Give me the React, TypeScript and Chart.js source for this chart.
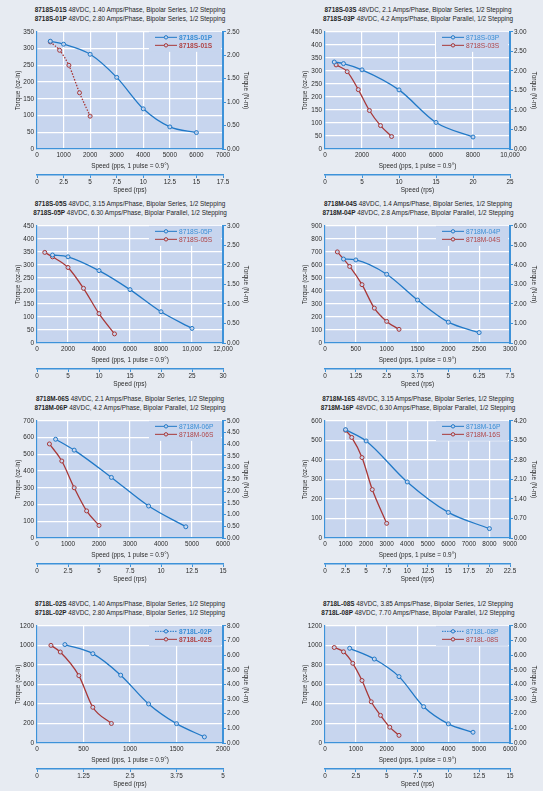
import React, { useEffect, useRef } from "react";
import { Chart, registerables } from "chart.js";

Chart.register(...registerables);

const FONT = '"Liberation Sans", Arial, sans-serif';

const PAGE_BG = "#e7ebf2";
const PLOT_BG = "#c7d5ee";
const BLUE = "#2179c7";
const RED = "#a83838";
const AXIS_BLUE = "#3d92d9";
const LEG_BLUE = "#3a8ed6";
const LEG_RED = "#b04446";
const TEXT = "#2a2a2a";

// ---------- data (speed in pps, torque in oz-in) ----------
const speed01P = [500, 1000, 2000, 3000, 4000, 5000, 6000];
const torque01P = [322, 313, 283, 214, 120, 66, 49];
const speed01S = [500, 850, 1200, 1600, 2000];
const torque01S = [320, 295, 250, 168, 98];

const speed03P = [500, 1000, 2000, 4000, 6000, 8000];
const torque03P = [334, 328, 304, 227, 102, 46];
const speed03S = [600, 1200, 1800, 2400, 3000, 3600];
const torque03S = [323, 297, 228, 148, 90, 48];

const speed05P = [1000, 2000, 4000, 6000, 8000, 10000];
const torque05P = [338, 331, 278, 205, 120, 56];
const speed05S = [500, 1000, 2000, 3000, 4000, 5000];
const torque05S = [348, 331, 290, 210, 113, 35];

const speed04P = [300, 500, 1000, 1500, 2000, 2500];
const torque04P = [645, 638, 528, 330, 160, 80];
const speed04S = [200, 400, 600, 800, 1000, 1200];
const torque04S = [700, 588, 448, 268, 166, 105];

const speed06P = [600, 1200, 2400, 3600, 4800];
const torque06P = [590, 525, 362, 191, 67];
const speed06S = [400, 800, 1200, 1600, 2000];
const torque06S = [562, 460, 300, 162, 75];

const speed16P = [1000, 2000, 4000, 6000, 8000];
const torque16P = [555, 497, 287, 131, 48];
const speed16S = [1000, 1300, 1800, 2300, 3000];
const torque16S = [552, 515, 412, 248, 75];

const speed02P = [300, 600, 900, 1200, 1500, 1800];
const torque02P = [1008, 915, 695, 400, 198, 62];
const speed02S = [150, 250, 450, 600, 800];
const torque02S = [1000, 932, 690, 366, 200];

const speed08P = [800, 1600, 2400, 3200, 4000, 4800];
const torque08P = [970, 860, 680, 372, 196, 110];
const speed08S = [300, 600, 900, 1200, 1500, 1800, 2100, 2400];
const torque08S = [978, 934, 816, 640, 422, 283, 162, 78];

// ---------- panel order: row by row, left then right ----------
const modelP = ["8718S-01P", "8718S-03P", "8718S-05P", "8718M-04P", "8718M-06P", "8718M-16P", "8718L-02P", "8718L-08P"];
const modelS = ["8718S-01S", "8718S-03S", "8718S-05S", "8718M-04S", "8718M-06S", "8718M-16S", "8718L-02S", "8718L-08S"];
const specS = [
  "48VDC, 1.40 Amps/Phase, Bipolar Series, 1/2 Stepping",
  "48VDC, 2.1 Amps/Phase, Bipolar Series, 1/2 Stepping",
  "48VDC, 3.15 Amps/Phase, Bipolar Series, 1/2 Stepping",
  "48VDC, 1.4 Amps/Phase, Bipolar Series, 1/2 Stepping",
  "48VDC, 2.1 Amps/Phase, Bipolar Series, 1/2 Stepping",
  "48VDC, 3.15 Amps/Phase, Bipolar Series, 1/2 Stepping",
  "48VDC, 1.40 Amps/Phase, Bipolar Series, 1/2 Stepping",
  "48VDC, 3.85 Amps/Phase, Bipolar Series, 1/2 Stepping",
];
const specP = [
  "48VDC, 2.80 Amps/Phase, Bipolar Series, 1/2 Stepping",
  "48VDC, 4.2 Amps/Phase, Bipolar Parallel, 1/2 Stepping",
  "48VDC, 6.30 Amps/Phase, Bipolar Parallel, 1/2 Stepping",
  "48VDC, 2.8 Amps/Phase, Bipolar Parallel, 1/2 Stepping",
  "48VDC, 4.2 Amps/Phase, Bipolar Parallel, 1/2 Stepping",
  "48VDC, 6.30 Amps/Phase, Bipolar Parallel, 1/2 Stepping",
  "48VDC, 2.80 Amps/Phase, Bipolar Series, 1/2 Stepping",
  "48VDC, 7.70 Amps/Phase, Bipolar Parallel, 1/2 Stepping",
];
const speedsP = [speed01P, speed03P, speed05P, speed04P, speed06P, speed16P, speed02P, speed08P];
const torquesP = [torque01P, torque03P, torque05P, torque04P, torque06P, torque16P, torque02P, torque08P];
const speedsS = [speed01S, speed03S, speed05S, speed04S, speed06S, speed16S, speed02S, speed08S];
const torquesS = [torque01S, torque03S, torque05S, torque04S, torque06S, torque16S, torque02S, torque08S];

// axis ranges / tick steps
const ppsMax = [7000, 10000, 12000, 3000, 6000, 9000, 2000, 6000];
const ppsStep = [1000, 2000, 2000, 500, 1000, 1000, 500, 1000];
const ozMax = [350, 450, 450, 900, 700, 600, 1200, 1200];
const ozStep = [50, 50, 50, 100, 100, 100, 200, 200];
const nmMax = [2.5, 3, 3, 6, 5, 4.2, 8, 8];
const nmStep = [0.5, 0.5, 0.5, 1, 0.5, 0.7, 1, 1];
const rpsMax = [17.5, 25, 30, 7.5, 15, 22.5, 5, 15];
const rpsStep = [2.5, 5, 5, 1.25, 2.5, 2.5, 1.25, 2.5];

const axisTitles = ["Torque (oz-in)", "Torque (N-m)", "Speed (pps, 1 pulse = 0.9°)", "Speed (rps)"];

// ---------- styling / layout ----------
const COL_LEFT = [0, 288];
const COL_WIDTH = [262, 255];
const RIGHT_AXIS_W = [39, 33];
const RIGHT_TITLE_PAD = [12.3, 5.1];
const LEFT_TITLE_PAD = [14.1, 13.1];
const ROW_PLOT_TOP = [31, 225, 420, 625];
const TOP_PAD = 6;
const PLOT_H = 118;
const PPS_H = 26;
const RPS_H = 22;
const CANVAS_H = TOP_PAD + PLOT_H + PPS_H + RPS_H;
const BOLD_LEGEND = [true, false, false, false, false, false, true, false];
const DOTTED_S = [true, false, false, false, false, false, false, false];
const DOTTED_LEG_P = [false, false, false, false, false, false, true, true];
const NARROW = 0.83;

function makeTicks(max: number, step: number) {
  const n = Math.round(max / step);
  const out: { value: number }[] = [];
  for (let i = 0; i <= n; i++) out.push({ value: Math.round(i * step * 10000) / 10000 });
  return out;
}

const bgPlugin = {
  id: "plotBg",
  beforeDraw(chart: any) {
    const { ctx, chartArea: ca } = chart;
    ctx.save();
    ctx.fillStyle = PLOT_BG;
    ctx.fillRect(ca.left, ca.top, ca.right - ca.left, ca.bottom - ca.top);
    ctx.restore();
  },
};

const legendPlugin = {
  id: "insideLegend",
  beforeDatasetsDraw(chart: any, _args: any, opts: any) {
    const { ctx, chartArea: ca } = chart;
    ctx.save();
    ctx.fillStyle = PLOT_BG;
    ctx.fillRect(ca.right - 74, ca.top, 72, 20);
    chart.data.datasets.forEach((ds: any, i: number) => {
      const y = ca.top + 5.5 + i * 8;
      const x0 = ca.right - 68;
      const x1 = ca.right - 46;
      ctx.strokeStyle = ds.borderColor;
      ctx.lineWidth = 1;
      ctx.setLineDash(i === 0 && opts.dashP ? [1.5, 1] : []);
      ctx.beginPath();
      ctx.moveTo(x0, y);
      ctx.lineTo(x1, y);
      ctx.stroke();
      ctx.setLineDash([]);
      ctx.beginPath();
      ctx.arc((x0 + x1) / 2, y, 1.7, 0, Math.PI * 2);
      ctx.fillStyle = PLOT_BG;
      ctx.fill();
      ctx.stroke();
      ctx.fillStyle = i === 0 ? LEG_BLUE : LEG_RED;
      ctx.font = `${opts.bold ? "bold " : ""}8px ${FONT}`;
      ctx.textBaseline = "middle";
      ctx.textAlign = "left";
      ctx.save();
      ctx.translate(ca.right - 44, y);
      ctx.scale(NARROW, 1);
      ctx.fillText(ds.label, 0, 0);
      ctx.restore();
    });
    ctx.restore();
  },
};

function Panel({ idx }: { idx: number }) {
  const ref = useRef<HTMLCanvasElement>(null);
  const col = idx % 2;
  const row = Math.floor(idx / 2);
  const left = COL_LEFT[col];
  const width = COL_WIDTH[col];
  const plotTop = ROW_PLOT_TOP[row];
  const top = plotTop - TOP_PAD;

  useEffect(() => {
    const tickFont = { family: FONT, size: 6.4 };
    const titleFont = { family: FONT, size: 6.4 };
    const ptsP = speedsP[idx].map((x, i) => ({ x, y: torquesP[idx][i] }));
    const ptsS = speedsS[idx].map((x, i) => ({ x, y: torquesS[idx][i] }));
    const chart = new Chart(ref.current as HTMLCanvasElement, {
      type: "line",
      data: {
        datasets: [
          {
            label: modelP[idx],
            data: ptsP,
            borderColor: BLUE,
            borderWidth: 1.3,
            pointRadius: 2,
            pointBorderWidth: 1,
            pointBackgroundColor: PLOT_BG,
            pointBorderColor: BLUE,
            cubicInterpolationMode: "monotone",
            xAxisID: "x",
            yAxisID: "y",
          },
          {
            label: modelS[idx],
            data: ptsS,
            borderColor: RED,
            borderWidth: 1.3,
            borderDash: DOTTED_S[idx] ? [1.5, 1.5] : [],
            pointRadius: 2,
            pointBorderWidth: 1,
            pointBackgroundColor: PLOT_BG,
            pointBorderColor: RED,
            cubicInterpolationMode: "monotone",
            xAxisID: "x",
            yAxisID: "y",
          },
        ],
      },
      options: {
        animation: false,
        responsive: false,
        events: [],
        layout: { padding: { top: TOP_PAD, left: 0, right: 0, bottom: 0 } },
        plugins: {
          legend: { display: false },
          tooltip: { enabled: false },
          insideLegend: { bold: BOLD_LEGEND[idx], dashP: DOTTED_LEG_P[idx] },
        } as any,
        scales: {
          x: {
            type: "linear",
            position: "bottom",
            weight: 0,
            min: 0,
            max: ppsMax[idx],
            afterBuildTicks: (s: any) => { s.ticks = makeTicks(ppsMax[idx], ppsStep[idx]); },
            afterFit: (s: any) => { s.height = PPS_H; },
            grid: { color: "#ffffff", lineWidth: 1.2, drawTicks: false },
            border: { color: AXIS_BLUE, width: 1.2 },
            ticks: {
              autoSkip: false, maxRotation: 0, minRotation: 0, padding: 2.2, font: tickFont, color: TEXT,
              callback: (v: any) => (v >= 10000 ? Number(v).toLocaleString("en-US") : String(v)),
            },
            title: { display: true, text: axisTitles[2], font: titleFont, color: TEXT, padding: { top: 0, bottom: 4.8 } },
          },
          rps: {
            type: "linear",
            axis: "x",
            position: "bottom",
            weight: 1,
            min: 0,
            max: rpsMax[idx],
            afterBuildTicks: (s: any) => { s.ticks = makeTicks(rpsMax[idx], rpsStep[idx]); },
            afterFit: (s: any) => { s.height = RPS_H; },
            grid: { drawOnChartArea: false, drawTicks: true, tickLength: 3, color: AXIS_BLUE },
            border: { color: AXIS_BLUE, width: 1.4 },
            ticks: {
              autoSkip: false, maxRotation: 0, minRotation: 0, padding: 0, font: tickFont, color: TEXT,
              callback: (v: any) => String(v),
            },
            title: { display: true, text: axisTitles[3], font: titleFont, color: TEXT, padding: { top: 0, bottom: 2.8 } },
          },
          y: {
            type: "linear",
            position: "left",
            min: 0,
            max: ozMax[idx],
            afterBuildTicks: (s: any) => { s.ticks = makeTicks(ozMax[idx], ozStep[idx]); },
            afterFit: (s: any) => { s.width = 37; },
            grid: { color: "#ffffff", lineWidth: 1.2, drawTicks: false },
            border: { color: AXIS_BLUE, width: 1.2 },
            ticks: { autoSkip: false, padding: 3, font: tickFont, color: TEXT, callback: (v: any) => String(v) },
            title: { display: true, text: axisTitles[0], font: titleFont, color: TEXT, padding: { top: LEFT_TITLE_PAD[col], bottom: 0 } },
          },
          nm: {
            type: "linear",
            axis: "y",
            position: "right",
            min: 0,
            max: nmMax[idx],
            afterBuildTicks: (s: any) => { s.ticks = makeTicks(nmMax[idx], nmStep[idx]); },
            afterFit: (s: any) => { s.width = RIGHT_AXIS_W[col]; },
            grid: { drawOnChartArea: false, drawTicks: true, tickLength: 3, color: AXIS_BLUE },
            border: { color: AXIS_BLUE, width: 2 },
            ticks: { autoSkip: false, padding: 1, font: tickFont, color: TEXT, callback: (v: any) => Number(v).toFixed(2) },
            title: { display: true, text: axisTitles[1], font: titleFont, color: TEXT, padding: { top: RIGHT_TITLE_PAD[col], bottom: 0 } },
          },
        } as any,
      },
      plugins: [bgPlugin, legendPlugin],
    });
    return () => chart.destroy();
  }, [idx, col]);

  const plotLeft = left + 37;
  const plotRight = left + width - RIGHT_AXIS_W[col];
  const center = (plotLeft + plotRight) / 2;

  return (
    <>
      <div
        style={{
          position: "absolute",
          left: center - 150,
          width: 300,
          top: plotTop - 26.5,
          textAlign: "center",
          fontFamily: FONT,
          fontSize: 7.7,
          lineHeight: "9.5px",
          color: "#1e1e1e",
          whiteSpace: "nowrap",
          transform: `scaleX(${NARROW})`,
          transformOrigin: "50% 0",
        }}
      >
        <div><b>{modelS[idx]}</b> {specS[idx]}</div>
        <div><b>{modelP[idx]}</b> {specP[idx]}</div>
      </div>
      <canvas
        ref={ref}
        width={width}
        height={CANVAS_H}
        style={{ position: "absolute", left, top, width, height: CANVAS_H }}
      />
    </>
  );
}

export default function App() {
  return (
    <div
      style={{
        position: "fixed",
        left: 0,
        top: 0,
        width: 543,
        height: 791,
        background: PAGE_BG,
        overflow: "hidden",
      }}
    >
      {modelP.map((_, i) => (
        <Panel key={i} idx={i} />
      ))}
    </div>
  );
}
